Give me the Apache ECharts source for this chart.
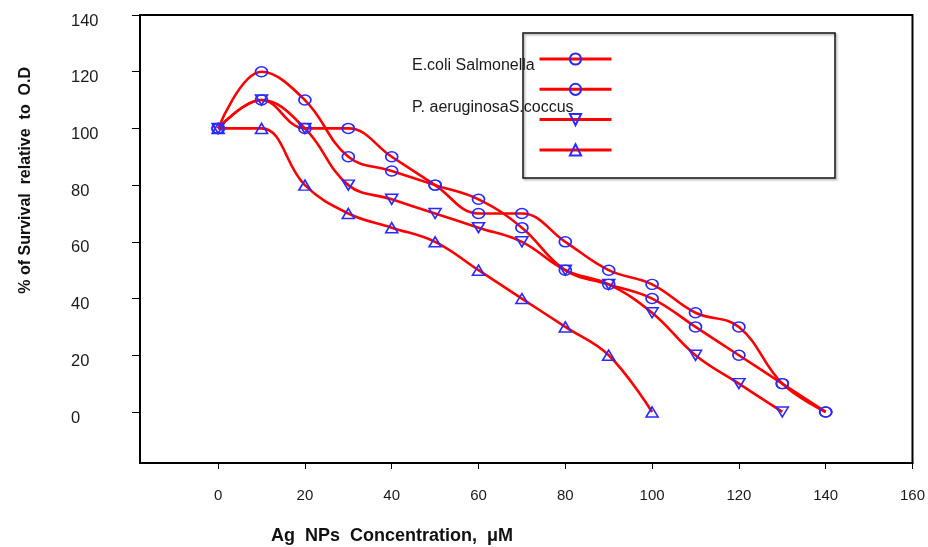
<!DOCTYPE html>
<html>
<head>
<meta charset="utf-8">
<script src="https://cdn.jsdelivr.net/npm/echarts@6/dist/echarts.min.js"></script>
<style>
  html, body { margin: 0; padding: 0; background: #fff; }
  #chart { width: 928px; height: 547px; }
</style>
</head>
<body>
<div id="chart"></div>
<script>
// concentration (uM) and % survival
var ecoliX = [0, 10, 20, 30, 40, 50, 60, 70, 80, 90, 100, 110, 120, 130, 140];
var ecoliY = [100, 120, 110, 90, 85, 80, 75, 65, 50, 45, 40, 30, 20, 10, 0];
var salmX = [0, 10, 20, 30, 40, 50, 60, 70, 80, 90, 100, 110, 120, 130, 140];
var salmY = [100, 110, 100, 100, 90, 80, 70, 70, 60, 50, 45, 35, 30, 10, 0];
var aeruX = [0, 10, 20, 30, 40, 50, 60, 70, 80, 90, 100, 110, 120, 130];
var aeruY = [100, 110, 100, 80, 75, 70, 65, 60, 50, 45, 35, 20, 10, 0];
var coccX = [0, 10, 20, 30, 40, 50, 60, 70, 80, 90, 100];
var coccY = [100, 100, 80, 70, 65, 60, 50, 40, 30, 20, 0];

var names = ["E.coli", "Salmonella", "P. aeruginosa", "S.coccus"];
var xTicks = [0, 20, 40, 60, 80, 100, 120, 140, 160];
var yTicks = [0, 20, 40, 60, 80, 100, 120, 140];

var FONT = "Liberation Sans";
var RED = "#ff0000";
var BLUE = "#2a2aff";
var downTri = "path://M0,0 L10,0 L5,8.5 Z";

function pairs(xs, ys) {
  var out = [];
  for (var i = 0; i < xs.length; i++) out.push([xs[i], ys[i]]);
  return out;
}

function mkSeries(name, data, symbol, size) {
  return {
    name: name,
    type: "line",
    data: data,
    smooth: 0.4,
    symbol: symbol,
    symbolSize: size,
    lineStyle: { color: RED, width: 2.6 },
    itemStyle: { color: "transparent", borderColor: BLUE, borderWidth: 1.6 },
    emphasis: { disabled: true }
  };
}

var chart = echarts.init(document.getElementById("chart"));
chart.setOption({
  animation: false,
  backgroundColor: "#fff",
  grid: {
    left: 140, right: 13, top: 15, bottom: 84,
    show: true, borderColor: "#000", borderWidth: 2
  },
  legend: {
    orient: "vertical",
    left: 533, top: 47,
    itemWidth: 72, itemHeight: 14, itemGap: 16.7,
    selectedMode: false,
    lineStyle: { width: 3 },
    formatter: function () { return ""; },
    data: names
  },
  xAxis: {
    type: "value",
    min: -18, max: 160,
    splitLine: { show: false },
    axisLine: { onZero: false, lineStyle: { color: "#000", width: 2 } },
    axisTick: { customValues: xTicks, length: 6, lineStyle: { color: "#000" } },
    axisLabel: { customValues: xTicks, margin: 25, color: "#1a1a1a", fontSize: 15, fontFamily: FONT }
  },
  yAxis: {
    type: "value",
    min: -18, max: 140,
    splitLine: { show: false },
    axisLine: { onZero: false, lineStyle: { color: "#000", width: 2 } },
    axisTick: { customValues: yTicks, length: 8, lineStyle: { color: "#000" } },
    axisLabel: {
      customValues: yTicks, margin: 69, align: "left",
      verticalAlign: "top", lineHeight: 12,
      color: "#1a1a1a", fontSize: 16.5, fontFamily: FONT
    }
  },
  graphic: [
    {
      type: "rect",
      shape: { x: 523, y: 33, width: 312, height: 145 },
      style: {
        fill: null, stroke: "#111", lineWidth: 1.5,
        shadowBlur: 2, shadowOffsetX: 1.5, shadowOffsetY: 1.5, shadowColor: "rgba(0,0,0,0.35)"
      },
      z: 1
    },
    {
      type: "text", left: 412, top: 58,
      style: { text: "E.coli Salmonella", font: "16px " + FONT, fill: "#1a1a1a" }
    },
    {
      type: "text", left: 412, top: 100,
      style: { text: "P. aeruginosaS.coccus", font: "16px " + FONT, fill: "#1a1a1a" }
    },
    {
      type: "text", left: 271, top: 527,
      style: { text: "Ag  NPs  Concentration,  \u03bcM", font: "bold 18px " + FONT, fill: "#111" }
    },
    {
      type: "text", left: 18, top: 67, rotation: Math.PI / 2,
      style: { text: "% of Survival  relative  to  O.D", font: "bold 16px " + FONT, fill: "#111" }
    }
  ],
  series: [
    mkSeries(names[0], pairs(ecoliX, ecoliY), "circle", [12, 10]),
    mkSeries(names[1], pairs(salmX, salmY), "circle", [12, 10]),
    mkSeries(names[2], pairs(aeruX, aeruY), downTri, [12, 10]),
    mkSeries(names[3], pairs(coccX, coccY), "triangle", [12, 10])
  ]
});
</script>
</body>
</html>
